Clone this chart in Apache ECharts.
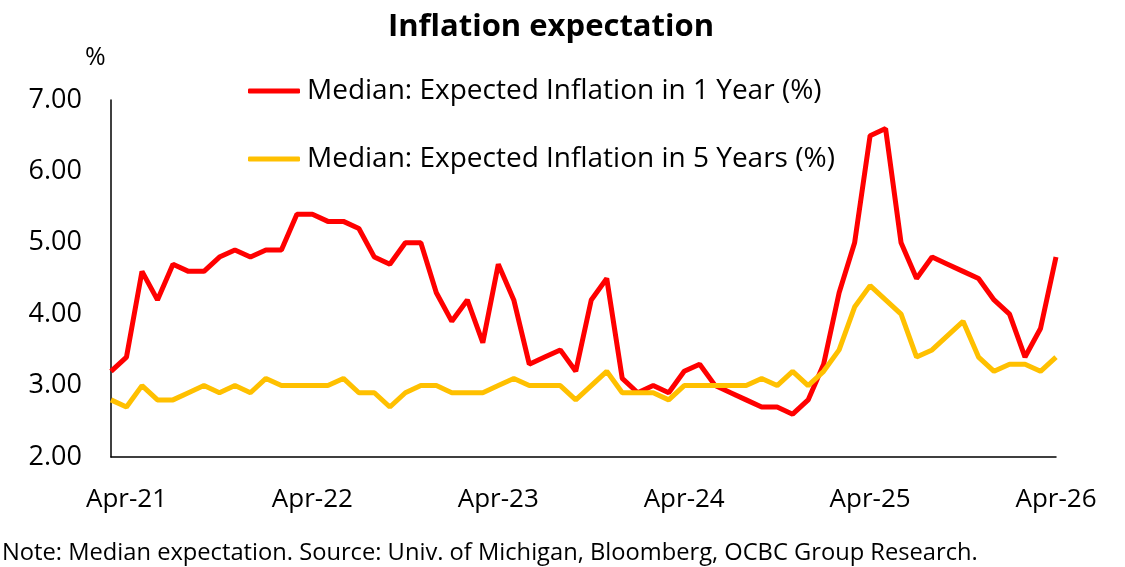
<!DOCTYPE html>
<html>
<head>
<meta charset="utf-8">
<title>Inflation expectation</title>
<script src="https://cdn.jsdelivr.net/npm/echarts@6/dist/echarts.min.js"></script>
<style>
    html, body { margin: 0; padding: 0; background: #fff; }
    #chart { width: 1125px; height: 567px; }
</style>
</head>
<body>
<div id="chart"></div>
<script>
    // months, Mar-21 .. Apr-26
    var months = ['Mar-21', 'Apr-21', 'May-21', 'Jun-21', 'Jul-21', 'Aug-21', 'Sep-21', 'Oct-21', 'Nov-21', 'Dec-21',
        'Jan-22', 'Feb-22', 'Mar-22', 'Apr-22', 'May-22', 'Jun-22', 'Jul-22', 'Aug-22', 'Sep-22', 'Oct-22', 'Nov-22', 'Dec-22',
        'Jan-23', 'Feb-23', 'Mar-23', 'Apr-23', 'May-23', 'Jun-23', 'Jul-23', 'Aug-23', 'Sep-23', 'Oct-23', 'Nov-23', 'Dec-23',
        'Jan-24', 'Feb-24', 'Mar-24', 'Apr-24', 'May-24', 'Jun-24', 'Jul-24', 'Aug-24', 'Sep-24', 'Oct-24', 'Nov-24', 'Dec-24',
        'Jan-25', 'Feb-25', 'Mar-25', 'Apr-25', 'May-25', 'Jun-25', 'Jul-25', 'Aug-25', 'Sep-25', 'Oct-25', 'Nov-25', 'Dec-25',
        'Jan-26', 'Feb-26', 'Mar-26', 'Apr-26'];

    // 1 year ahead
    var oneYear = [3.2, 3.4, 4.6, 4.2, 4.7, 4.6, 4.6, 4.8, 4.9, 4.8,
        4.9, 4.9, 5.4, 5.4, 5.3, 5.3, 5.2, 4.8, 4.7, 5.0, 5.0, 4.3,
        3.9, 4.2, 3.6, 4.7, 4.2, 3.3, 3.4, 3.5, 3.2, 4.2, 4.5, 3.1,
        2.9, 3.0, 2.9, 3.2, 3.3, 3.0, 2.9, 2.8, 2.7, 2.7, 2.6, 2.8,
        3.3, 4.3, 5.0, 6.5, 6.6, 5.0, 4.5, 4.8, 4.7, 4.6, 4.5, 4.2,
        4.0, 3.4, 3.8, 4.8];

    // 5 years ahead
    var fiveYear = [2.8, 2.7, 3.0, 2.8, 2.8, 2.9, 3.0, 2.9, 3.0, 2.9,
        3.1, 3.0, 3.0, 3.0, 3.0, 3.1, 2.9, 2.9, 2.7, 2.9, 3.0, 3.0,
        2.9, 2.9, 2.9, 3.0, 3.1, 3.0, 3.0, 3.0, 2.8, 3.0, 3.2, 2.9,
        2.9, 2.9, 2.8, 3.0, 3.0, 3.0, 3.0, 3.0, 3.1, 3.0, 3.2, 3.0,
        3.2, 3.5, 4.1, 4.4, 4.2, 4.0, 3.4, 3.5, 3.7, 3.9, 3.4, 3.2,
        3.3, 3.3, 3.2, 3.4];

    var seriesNames = ['Median: Expected Inflation in 1 Year (%)', 'Median: Expected Inflation in 5 Years (%)'];

    var font = '"Open Sans", "Noto Sans", sans-serif';
    var chart = echarts.init(document.getElementById('chart'));

    chart.setOption({
        animation: false,
        textStyle: { fontFamily: font, color: '#000' },
        title: {
            text: 'Inflation expectation',
            left: 546,
            textAlign: 'center',
            top: 7,
            textStyle: { fontFamily: font, fontSize: 31, fontWeight: 'bold', color: '#000' }
        },
        legend: {
            orient: 'vertical',
            left: 243,
            top: 69,
            itemWidth: 52,
            itemHeight: 5,
            itemGap: 34,
            icon: 'roundRect',
            textStyle: { fontFamily: font, fontSize: 28, color: '#000', lineHeight: 34, padding: [0, 0, 0, 2] },
            data: seriesNames
        },
        grid: {
            left: 111,
            right: 69,
            top: 100,
            bottom: 110,
            containLabel: false
        },
        xAxis: {
            type: 'category',
            data: months,
            boundaryGap: false,
            axisLine: { lineStyle: { color: '#000', width: 1.5 } },
            axisTick: { show: false },
            axisLabel: {
                interval: function (idx, val) { return val.indexOf('Apr') === 0; },
                fontSize: 26,
                color: '#000',
                margin: 30
            },
            splitLine: { show: false }
        },
        yAxis: {
            type: 'value',
            min: 2,
            max: 7,
            interval: 1,
            axisLine: { show: true, lineStyle: { color: '#000', width: 1.5 } },
            axisTick: { show: false },
            axisLabel: {
                fontSize: 27,
                color: '#000',
                margin: 29,
                formatter: function (v) { return v.toFixed(2); }
            },
            splitLine: { show: false }
        },
        graphic: [
            {
                type: 'text',
                left: 85,
                top: 45,
                style: { text: '%', font: '25px ' + font, fill: '#000' }
            },
            {
                type: 'text',
                left: 2,
                top: 541,
                style: {
                    text: 'Note: Median expectation. Source: Univ. of Michigan, Bloomberg, OCBC Group Research.',
                    font: '23.7px ' + font,
                    fill: '#000'
                }
            }
        ],
        series: [
            {
                name: seriesNames[0],
                type: 'line',
                data: oneYear,
                showSymbol: false,
                symbol: 'none',
                lineStyle: { color: '#FF0000', width: 5 },
                itemStyle: { color: '#FF0000' }
            },
            {
                name: seriesNames[1],
                type: 'line',
                data: fiveYear,
                showSymbol: false,
                symbol: 'none',
                lineStyle: { color: '#FFC000', width: 5 },
                itemStyle: { color: '#FFC000' }
            }
        ]
    });
</script>
</body>
</html>
